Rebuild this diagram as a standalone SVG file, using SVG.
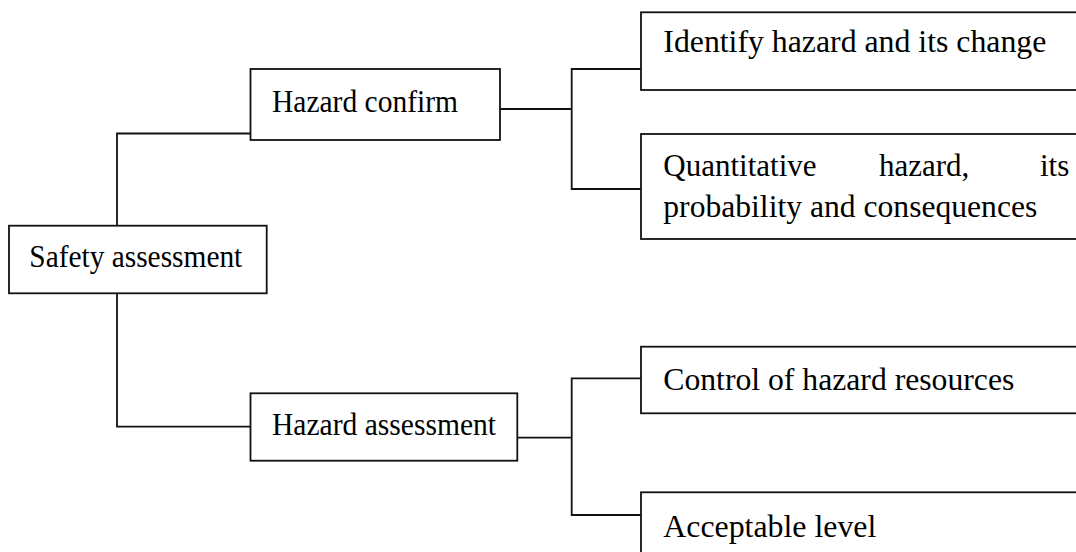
<svg xmlns="http://www.w3.org/2000/svg" width="1076" height="552" viewBox="0 0 1076 552">
<style>
.box{fill:#fff;stroke:#111;stroke-width:1.8}
.conn{fill:none;stroke:#111;stroke-width:1.8}
text{font-family:"Liberation Serif","Times New Roman",serif;font-size:31px;fill:#000}
</style>
<rect width="1076" height="552" fill="#fff"/>
<g id="connectors">
<polyline class="conn" points="250.5,133.5 117,133.5 117,225.7"/>
<polyline class="conn" points="117,293.3 117,426.7 250.5,426.7"/>
<line class="conn" x1="500" y1="109" x2="571.7" y2="109"/>
<polyline class="conn" points="641,69 571.7,69 571.7,189 641,189"/>
<line class="conn" x1="517.3" y1="437.7" x2="571.7" y2="437.7"/>
<polyline class="conn" points="641,378.3 571.7,378.3 571.7,515 641,515"/>
</g>
<g id="safety">
<rect class="box" x="9" y="225.7" width="257.7" height="67.6"/>
<text x="29.3" y="266.7" textLength="213" lengthAdjust="spacingAndGlyphs">Safety assessment</text>
</g>
<g id="hazard-confirm">
<rect class="box" x="250.5" y="69" width="249.5" height="71"/>
<text x="272" y="111.7" textLength="186" lengthAdjust="spacingAndGlyphs">Hazard confirm</text>
</g>
<g id="hazard-assessment">
<rect class="box" x="250.5" y="393.3" width="266.8" height="67.4"/>
<text x="272" y="435" textLength="224" lengthAdjust="spacingAndGlyphs">Hazard assessment</text>
</g>
<g id="identify">
<rect class="box" x="641" y="12.3" width="450" height="77.7"/>
<text x="663.3" y="52.3" textLength="383" lengthAdjust="spacingAndGlyphs">Identify hazard and its change</text>
</g>
<g id="quantitative">
<rect class="box" x="641" y="134" width="450" height="105"/>
<text x="663.3" y="175.7">Quantitative</text>
<text x="879" y="175.7">hazard,</text>
<text x="1040" y="175.7">its</text>
<text x="663.3" y="216.7" textLength="374" lengthAdjust="spacingAndGlyphs">probability and consequences</text>
</g>
<g id="control">
<rect class="box" x="641" y="346.7" width="450" height="66.6"/>
<text x="663.3" y="390" textLength="351" lengthAdjust="spacingAndGlyphs">Control of hazard resources</text>
</g>
<g id="acceptable">
<rect class="box" x="641" y="492.3" width="450" height="80"/>
<text x="663.3" y="536.7" textLength="213" lengthAdjust="spacingAndGlyphs">Acceptable level</text>
</g>
</svg>
